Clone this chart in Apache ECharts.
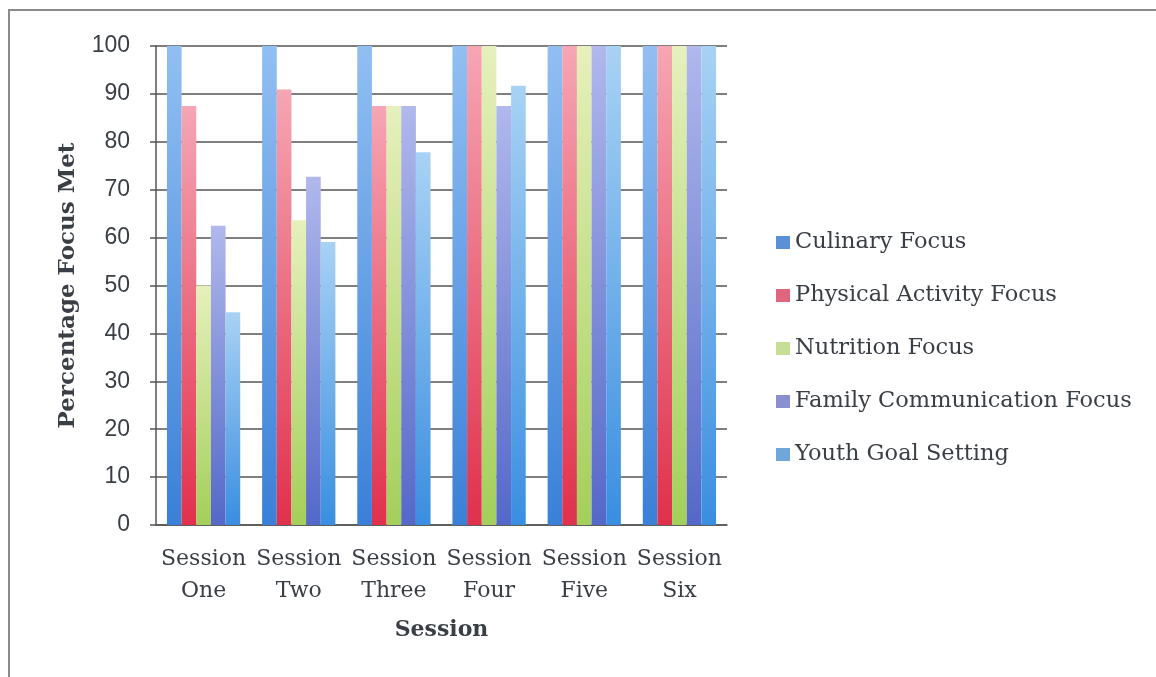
<!DOCTYPE html>
<html>
<head>
<meta charset="utf-8">
<script src="https://cdn.jsdelivr.net/npm/echarts@6/dist/echarts.min.js"></script>
<style>
  html, body { margin: 0; padding: 0; background: #ffffff; }
  #chart { width: 1156px; height: 677px; }
</style>
</head>
<body>
<div id="chart"></div>
<script>
// Sessions along the x axis
const sessions = ['Session\nOne', 'Session\nTwo', 'Session\nThree', 'Session\nFour', 'Session\nFive', 'Session\nSix'];

// Percentage of each focus area met, per session
const culinaryFocus      = [100, 100, 100, 100, 100, 100];
const physicalFocus      = [87.5, 90.9, 87.5, 100, 100, 100];
const nutritionFocus     = [50, 63.6, 87.5, 100, 100, 100];
const familyCommFocus    = [62.5, 72.7, 87.5, 87.5, 100, 100];
const youthGoalSetting   = [44.4, 59.1, 77.8, 91.7, 100, 100];

const yTicks = [0, 10, 20, 30, 40, 50, 60, 70, 80, 90, 100];

const serif = '"DejaVu Serif", "Liberation Serif", serif';
const sans = '"Liberation Sans", "DejaVu Sans", sans-serif';

function grad(top, bottom) {
  return new echarts.graphic.LinearGradient(0, 0, 0, 1, [
    { offset: 0, color: top },
    { offset: 1, color: bottom }
  ]);
}

const seriesDefs = [
  { name: 'Culinary Focus', data: culinaryFocus, top: '#92bff2', bottom: '#3a80d8', legend: '#5b8fd6' },
  { name: 'Physical Activity Focus', data: physicalFocus, top: '#f6a6b4', bottom: '#e0304c', legend: '#e0657e' },
  { name: 'Nutrition Focus', data: nutritionFocus, top: '#e6f0bc', bottom: '#a4cf5a', legend: '#c6de96' },
  { name: 'Family Communication Focus', data: familyCommFocus, top: '#b0b8ec', bottom: '#5468c8', legend: '#8a8fd0' },
  { name: 'Youth Goal Setting', data: youthGoalSetting, top: '#a8d2f4', bottom: '#3a8ee0', legend: '#6fa8d8' }
];

const chart = echarts.init(document.getElementById('chart'), null, { renderer: 'canvas' });

chart.setOption({
  animation: false,
  backgroundColor: '#ffffff',
  graphic: [{
    type: 'rect',
    shape: { x: 9, y: 10, width: 1200, height: 720 },
    style: { fill: 'none', stroke: '#8a8a8a', lineWidth: 2 },
    z: -10
  }],
  grid: { left: 156, right: 429, top: 46, bottom: 152, containLabel: false },
  legend: {
    orient: 'vertical',
    left: 771,
    top: 226,
    itemGap: 30,
    itemWidth: 14,
    itemHeight: 13,
    icon: 'rect',
    textStyle: { fontFamily: serif, fontSize: 22.5, color: '#3a3f46', padding: [0, 0, 0, 0] },
    data: seriesDefs.map(s => ({ name: s.name, itemStyle: { color: s.legend } }))
  },
  xAxis: {
    type: 'category',
    data: sessions,
    name: 'Session',
    nameLocation: 'middle',
    nameGap: 94,
    nameTextStyle: { fontFamily: serif, fontSize: 22, fontWeight: 'bold', color: '#3a3f46' },
    axisLine: { lineStyle: { color: '#555555', width: 1.5 } },
    axisTick: { show: false },
    axisLabel: {
      fontFamily: serif, fontSize: 22, color: '#3a3f46', margin: 18, lineHeight: 32,
      interval: 0
    }
  },
  yAxis: {
    type: 'value',
    min: 0,
    max: 100,
    interval: 10,
    name: 'Percentage Focus Met',
    nameLocation: 'middle',
    nameGap: 76,
    nameTextStyle: { fontFamily: serif, fontSize: 23, fontWeight: 'bold', color: '#3a3f46' },
    axisLine: { show: true, lineStyle: { color: '#555555', width: 1.5 } },
    axisTick: { show: true, length: 6, lineStyle: { color: '#555555', width: 1.5 } },
    axisLabel: {
      fontFamily: sans, fontSize: 23, color: '#3a3f46', margin: 26,
      formatter: v => (yTicks.indexOf(v) >= 0 ? String(v) : '')
    },
    splitLine: { show: true, lineStyle: { color: '#555555', width: 1.5 } }
  },
  series: seriesDefs.map(s => ({
    name: s.name,
    type: 'bar',
    data: s.data,
    barGap: '0%',
    barCategoryGap: '23%',
    itemStyle: { color: grad(s.top, s.bottom) },
    emphasis: { disabled: true }
  }))
});
</script>
</body>
</html>
